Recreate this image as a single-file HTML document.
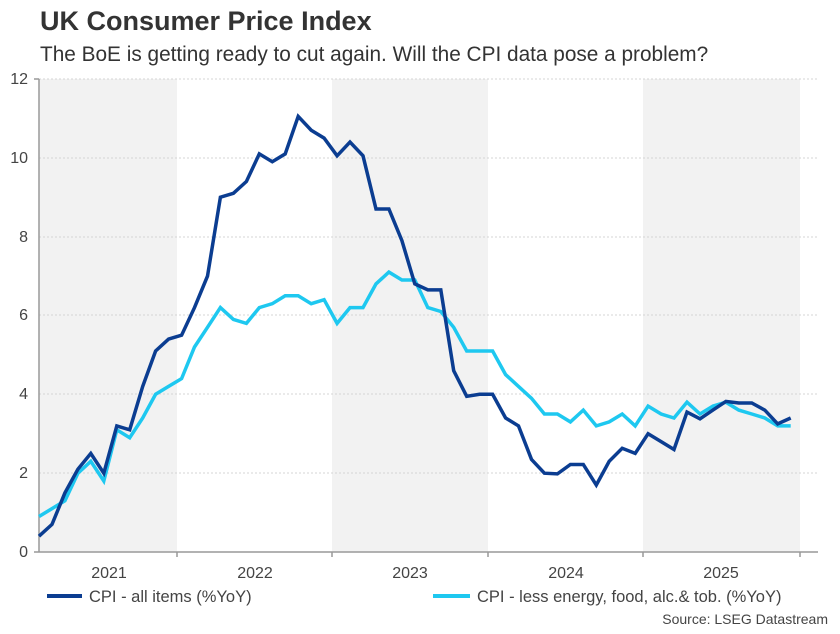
<!DOCTYPE html>
<html><head><meta charset="utf-8"><style>
body{margin:0;background:#fff;width:840px;height:629px;overflow:hidden;font-family:"Liberation Sans",Arial,sans-serif}
</style></head><body>
<svg id="s" width="840" height="629" xmlns="http://www.w3.org/2000/svg" font-family="Liberation Sans, Arial, sans-serif">
<rect x="39" y="79" width="138" height="473" fill="#f2f2f2"/>
<rect x="332" y="79" width="156" height="473" fill="#f2f2f2"/>
<rect x="643" y="79" width="157" height="473" fill="#f2f2f2"/>
<g stroke="#d4d4d4" stroke-dasharray="2,2" stroke-width="1">
<line x1="39" x2="818" y1="79" y2="79"/><line x1="39" x2="818" y1="158" y2="158"/>
<line x1="39" x2="818" y1="237" y2="237"/><line x1="39" x2="818" y1="315" y2="315"/>
<line x1="39" x2="818" y1="394" y2="394"/><line x1="39" x2="818" y1="473" y2="473"/>
</g>
<g stroke="#999" stroke-width="1.5">
<line x1="39" y1="79" x2="39" y2="552"/><line x1="34" y1="79" x2="39" y2="79"/>
<line x1="34" y1="552" x2="818" y2="552"/>
<line x1="177" y1="552" x2="177" y2="557"/><line x1="332" y1="552" x2="332" y2="557"/>
<line x1="488" y1="552" x2="488" y2="557"/><line x1="643" y1="552" x2="643" y2="557"/>
<line x1="800" y1="552" x2="800" y2="557"/>
</g>
<g fill="#444" font-size="16" text-anchor="end">
<text x="28" y="84">12</text><text x="28" y="163">10</text><text x="28" y="242">8</text>
<text x="28" y="320">6</text><text x="28" y="399">4</text><text x="28" y="478">2</text><text x="28" y="557">0</text>
</g>
<g fill="#444" font-size="16" text-anchor="middle">
<text x="109" y="578">2021</text><text x="255" y="578">2022</text><text x="410" y="578">2023</text>
<text x="566" y="578">2024</text><text x="721" y="578">2025</text>
</g>
<text x="40" y="30" font-size="27" font-weight="bold" fill="#333">UK Consumer Price Index</text>
<text x="40" y="61" font-size="20.8" fill="#333">The BoE is getting ready to cut again. Will the CPI data pose a problem?</text>
<polyline id="core" fill="none" stroke="#1ec8f0" stroke-width="3.5" stroke-linejoin="miter"/>
<polyline id="all" fill="none" stroke="#0b3d91" stroke-width="3.5" stroke-linejoin="miter"/>
<line x1="47" y1="596" x2="82" y2="596" stroke="#0b3d91" stroke-width="4"/>
<text x="89" y="602" font-size="16.5" fill="#444">CPI - all items (%YoY)</text>
<line x1="433" y1="596" x2="470" y2="596" stroke="#1ec8f0" stroke-width="4"/>
<text x="477" y="602" font-size="16.5" fill="#444">CPI - less energy, food, alc.&amp; tob. (%YoY)</text>
<text x="828" y="624" font-size="14" fill="#444" text-anchor="end">Source: LSEG Datastream</text>
</svg>
<script>
var all=[0.4,0.7,1.5,2.1,2.5,2.0,3.2,3.1,4.2,5.1,5.4,
5.5,6.2,7.0,9.0,9.1,9.4,10.1,9.9,10.1,11.05,10.7,10.5,
10.05,10.4,10.05,8.7,8.7,7.9,6.8,6.65,6.65,4.6,3.95,4.0,
4.0,3.4,3.2,2.35,2.0,1.98,2.22,2.22,1.7,2.3,2.63,2.5,
3.0,2.8,2.6,3.55,3.38,3.6,3.82,3.78,3.78,3.6,3.25,3.4];
var core=[0.9,1.1,1.3,2.0,2.3,1.8,3.1,2.9,3.4,4.0,4.2,
4.4,5.2,5.7,6.2,5.9,5.8,6.2,6.3,6.5,6.5,6.3,6.4,
5.8,6.2,6.2,6.8,7.1,6.9,6.9,6.2,6.1,5.7,5.1,5.1,
5.1,4.5,4.2,3.9,3.5,3.5,3.3,3.6,3.2,3.3,3.5,3.2,
3.7,3.5,3.4,3.8,3.5,3.7,3.8,3.6,3.5,3.4,3.2,3.2];
function pts(a){return a.map(function(v,i){return (39+i*12.96).toFixed(1)+","+(552-v*39.42).toFixed(1)}).join(" ")}
document.getElementById("all").setAttribute("points",pts(all));
document.getElementById("core").setAttribute("points",pts(core));
</script>
</body></html>
